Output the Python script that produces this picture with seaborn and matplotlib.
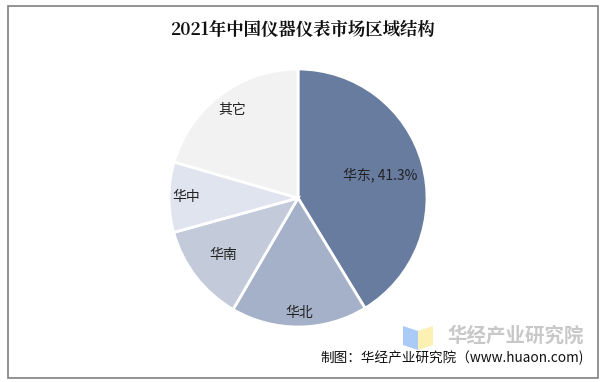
import matplotlib
matplotlib.use("Agg")
import matplotlib.pyplot as plt
import matplotlib.patches as mpatches
import numpy as np
import seaborn as sns

regions = ["华东", "华北", "华南", "华中", "其它"]
shares = [41.3, 17.1, 12.3, 8.8, 20.5]
labels = ["华东, 41.3%", "华北", "华南", "华中", "其它"]
colors = ["#687ca0", "#a5b1c8", "#c3cbdb", "#e0e4ee", "#f2f2f2"]
label_r = [0.66, 0.89, 0.73, 0.87, 0.85]

title = "2021年中国仪器仪表市场区域结构"
source = "制图：华经产业研究院（www.huaon.com)"
brand = "华经产业研究院"

sns.set_theme(style="white")
plt.rcParams['font.family'] = ['Noto Sans CJK SC', 'DejaVu Sans']

W, H = 605, 382
fig = plt.figure(figsize=(W / 100, H / 100), dpi=100)
fig.patch.set_facecolor("white")

# outer frame
fig.add_artist(mpatches.Rectangle((8 / W, 1 - 378 / H), 590 / W, 372 / H,
                                  transform=fig.transFigure, fill=False,
                                  edgecolor="#808080", linewidth=1.2))

cx, cy, r = 298, 198, 129
ax = fig.add_axes([(cx - r) / W, 1 - (cy + r) / H, 2 * r / W, 2 * r / H])
wedges, _ = ax.pie(shares, colors=colors, startangle=90, counterclock=False,
                   wedgeprops=dict(edgecolor="white", linewidth=2))
ax.set_xlim(-1, 1)
ax.set_ylim(-1, 1)
ax.set_aspect("equal")
ax.axis("off")

for w, lab, d in zip(wedges, labels, label_r):
    ang = np.deg2rad((w.theta1 + w.theta2) / 2)
    ax.text(d * np.cos(ang), d * np.sin(ang), lab, ha="center", va="center",
            fontsize=10, color="#222222")

fig.text(0.5, 1 - 30 / H, title, ha="center", va="center", fontsize=12.5,
         fontweight="bold", color="#111111",
         family=['Noto Serif CJK SC', 'Noto Sans CJK SC', 'DejaVu Sans'])

# logo
fig.add_artist(mpatches.Polygon([(403 / W, 1 - 326 / H), (418 / W, 1 - 331 / H),
                                 (418 / W, 1 - 350 / H), (403 / W, 1 - 345 / H)],
                                closed=True, transform=fig.transFigure,
                                facecolor="#a9cbf5", edgecolor="none"))
fig.add_artist(mpatches.Polygon([(418 / W, 1 - 331 / H), (433 / W, 1 - 326 / H),
                                 (433 / W, 1 - 345 / H), (418 / W, 1 - 350 / H)],
                                closed=True, transform=fig.transFigure,
                                facecolor="#fdf0b3", edgecolor="none"))
fig.text(516 / W, 1 - 336 / H, brand, ha="center", va="center", fontsize=14,
         fontweight="bold", color="#c8c8c8")

fig.text(584 / W, 1 - 358 / H, source, ha="right", va="center", fontsize=9.8,
         color="#111111")

fig.savefig("out.png", dpi=100, facecolor="white")
